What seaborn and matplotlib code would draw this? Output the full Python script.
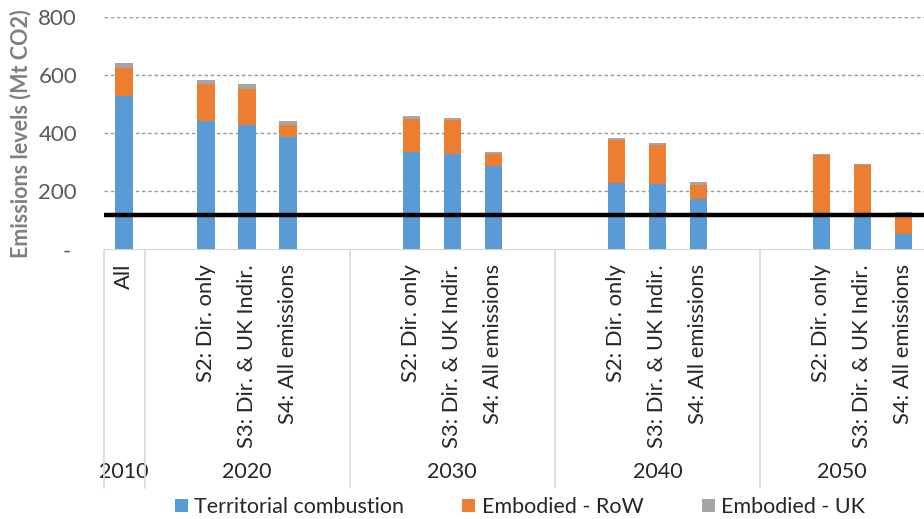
import numpy as np
import pandas as pd
import matplotlib
matplotlib.use("Agg")
import matplotlib.pyplot as plt
import seaborn as sns
from matplotlib.lines import Line2D
from matplotlib.patches import Patch
from matplotlib.transforms import blended_transform_factory

# ---- data (Mt CO2) ----
years = ["2010", "2020", "2030", "2040", "2050"]
base_scenario = "All"
scenarios = ["S2: Dir. only", "S3: Dir. & UK Indir.", "S4: All emissions"]

territorial = [527, 442, 428, 386, 335, 329, 288, 228, 226, 175, 118, 118, 54]
embodied_row = [98, 128, 125, 43, 115, 116, 39, 148, 133, 48, 206, 171, 70]
embodied_uk = [16, 12, 15, 13, 10, 8, 9, 6, 8, 9, 3, 5, 5]
target_level = 120

series_names = ["Territorial combustion", "Embodied - RoW", "Embodied - UK"]
y_ticks = [0, 200, 400, 600, 800]
y_tick_labels = ["- ", "200", "400", "600", "800"]

colors = {"terr": "#5B9BD5", "row": "#ED7D31", "uk": "#A5A5A5"}
text_dark = "#262626"
text_grey = "#595959"

# ---- category slots: one bar for 2010, then padded groups of three ----
bar_keys = []
order, slot_labels = [], []
order.append(f"{years[0]}|{base_scenario}")
slot_labels.append(base_scenario)
bar_keys.append(order[-1])
for yr in years[1:]:
    order.append(f"{yr}|pad_a"); slot_labels.append("")
    for sc in scenarios:
        order.append(f"{yr}|{sc}"); slot_labels.append(sc)
        bar_keys.append(order[-1])
    if yr != years[-1]:
        order.append(f"{yr}|pad_b"); slot_labels.append("")

df = pd.DataFrame({
    "slot": bar_keys,
    "terr": territorial,
    "row": embodied_row,
    "uk": embodied_uk,
})
df["cum_row"] = df["terr"] + df["row"]
df["cum_uk"] = df["cum_row"] + df["uk"]

# ---- figure ----
sns.set_theme(style="white")
plt.rcParams["font.family"] = ["Lato", "DejaVu Sans"]

W, H = 924, 519
fig = plt.figure(figsize=(W / 100, H / 100), dpi=100)
ax_left, ax_right = 103.5 / W, 1.0
ax_bottom, ax_top = 1 - 249.5 / H, 1 - 16.8 / H
ax = fig.add_axes([ax_left, ax_bottom, ax_right - ax_left, ax_top - ax_bottom])

# stacked bars drawn back to front from cumulative totals
for col, key in [("cum_uk", "uk"), ("cum_row", "row"), ("terr", "terr")]:
    sns.barplot(data=df, x="slot", y=col, order=order, color=colors[key],
                width=0.42, saturation=1, errorbar=None, linewidth=0, ax=ax)

ax.set_xlim(-0.5, len(order) - 0.5)
ax.set_ylim(0, 800)

# grid and baseline
for v in y_ticks[1:]:
    ax.axhline(v, color="#999999", lw=1.0, ls=(0, (2.5, 2)), zorder=0)
ax.axhline(0, color="#D0D0D0", lw=1.4, zorder=1)
ax.axhline(target_level, color="black", lw=3.2, zorder=5)

for s in ax.spines.values():
    s.set_visible(False)

ax.set_xticks([])
ax.set_xlabel("")
ax.set_yticks(y_ticks)
ax.set_yticklabels(y_tick_labels, color=text_grey, fontsize=16)
ax.tick_params(axis="y", length=0, pad=19)
ax.set_ylabel("Emissions levels (Mt CO2)", fontsize=15.5, fontweight="bold",
              color="#7F7F7F")
ax.yaxis.set_label_coords(-0.088, 0.5)

# two-level category axis
trans = blended_transform_factory(ax.transData, fig.transFigure)
for i, lab in enumerate(slot_labels):
    if lab:
        ax.text(i, 1 - 264 / H, lab, rotation=90, ha="center", va="top",
                fontsize=15.8, color=text_dark, transform=trans, clip_on=False)

year_x = [0, 3, 8, 13, 17.5]
for x, yr in zip(year_x, years):
    ax.text(x, 1 - 472 / H, yr, ha="center", va="center", fontsize=15.5,
            color=text_dark, transform=trans, clip_on=False)

for x in [-0.5, 0.5, 5.5, 10.5, 15.5]:
    fig.add_artist(Line2D([x, x], [1 - 250 / H, 1 - 488 / H], transform=trans,
                          color="#D9D9D9", lw=1.2, clip_on=False))

handles = [Patch(facecolor=colors[k], edgecolor="none") for k in ["terr", "row", "uk"]]
fig.legend(handles, series_names, loc="center", bbox_to_anchor=(520 / W, 1 - 507 / H),
           ncol=3, frameon=False, fontsize=15.5, handlelength=0.6, handleheight=0.6,
           handletextpad=0.3, columnspacing=2.7, labelcolor=text_dark)

fig.savefig("out.png", dpi=100)
